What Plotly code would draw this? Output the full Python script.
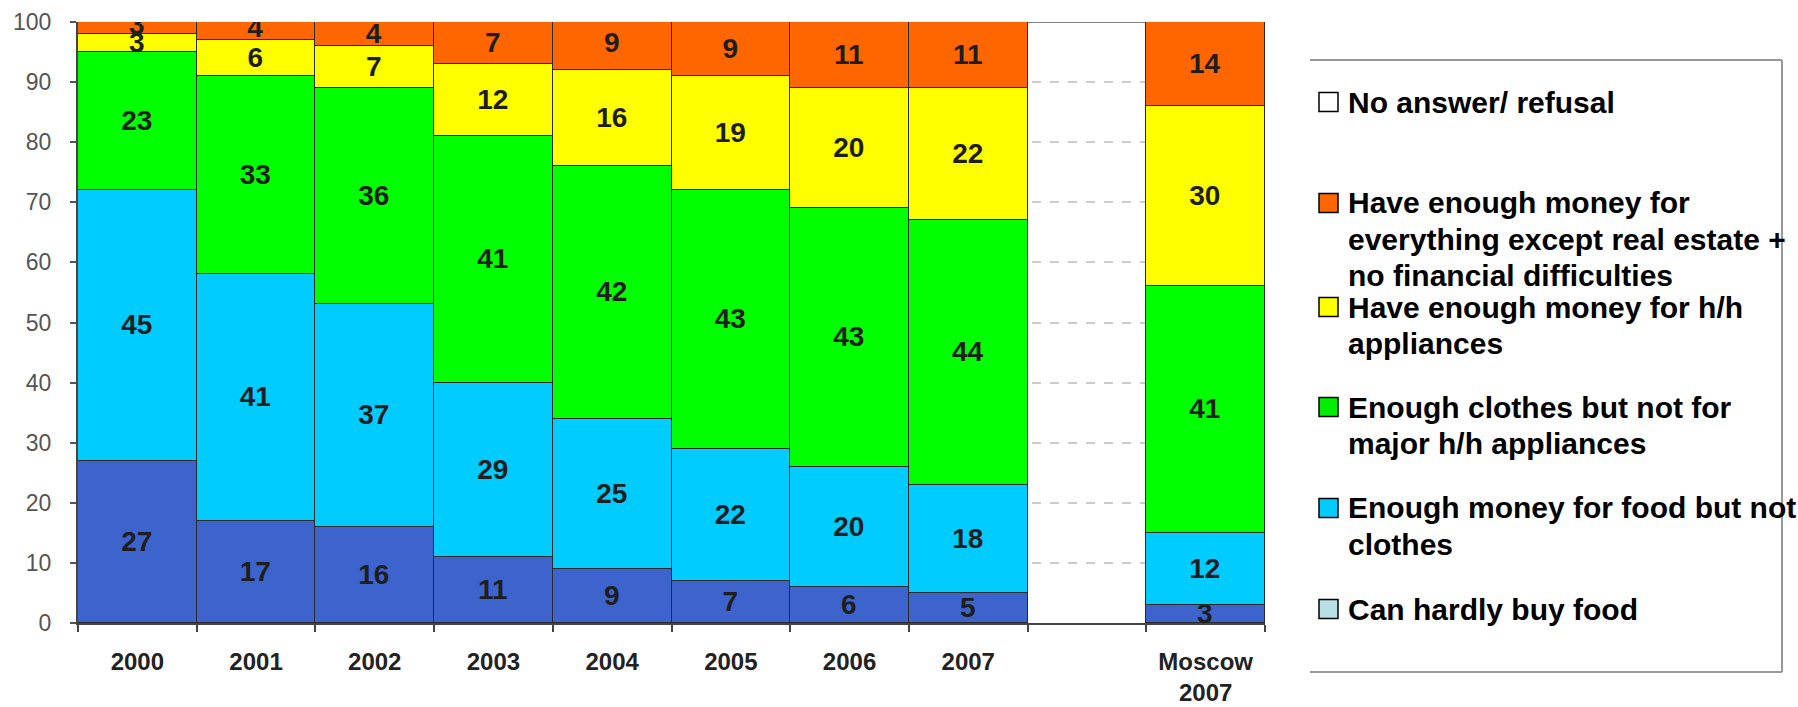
import plotly.graph_objects as go

# ---------------- data ----------------
categories = ["2000", "2001", "2002", "2003", "2004", "2005", "2006", "2007", " ", "Moscow<br>2007"]

can_hardly_buy_food = [27, 17, 16, 11, 9, 7, 6, 5, None, 3]
food_not_clothes    = [45, 41, 37, 29, 25, 22, 20, 18, None, 12]
clothes_not_appl    = [23, 33, 36, 41, 42, 43, 43, 44, None, 41]
hh_appliances       = [3, 6, 7, 12, 16, 19, 20, 22, None, 30]
everything_but_re   = [3, 4, 4, 7, 9, 9, 11, 11, None, 14]

series_values = [can_hardly_buy_food, food_not_clothes, clothes_not_appl, hh_appliances, everything_but_re]
series_colors = ["#3d64cc", "#00ccff", "#00ff00", "#ffff00", "#ff6600"]

legend_labels = [
    ["No answer/ refusal"],
    ["Have enough money for", "everything except real estate +", "no financial difficulties"],
    ["Have enough money for h/h", "appliances"],
    ["Enough clothes but not for", "major h/h appliances"],
    ["Enough money for food but not", "clothes"],
    ["Can hardly buy food"],
]
legend_colors = ["#ffffff", "#ff6600", "#ffff00", "#00ee00", "#00ccff", "#b8e0e4"]
legend_line_centers_px = [102, 203, 307, 407, 508, 609]

y_ticks = list(range(0, 101, 10))

# ---------------- layout geometry (pixels) ----------------
W, H = 1798, 707
PL, PR, PT, PB = 78, 1265, 22, 623
LINE_PITCH = 36


def px2paper_x(px):
    return (px - PL) / (PR - PL)


def px2paper_y(py):
    return (PB - py) / (PB - PT)


FONT = "Liberation Sans, Arial, sans-serif"

fig = go.Figure()
for vals, col in zip(series_values, series_colors):
    fig.add_trace(go.Bar(
        x=categories,
        y=vals,
        marker=dict(color=col, line=dict(color="#2a2a2a", width=1.5)),
        text=[("" if v is None else str(v)) for v in vals],
        textposition="inside",
        insidetextanchor="middle",
        textangle=0,
        textfont=dict(family=FONT, size=28, color="#1e1e1e", weight="bold"),
        showlegend=False,
        hoverinfo="skip",
    ))

shapes = []
# plot-area top border (visible only in the gap)
shapes.append(dict(type="line", xref="paper", yref="y", x0=0, x1=1, y0=100, y1=100,
                   line=dict(color="#808080", width=2), layer="below"))

# legend frame (top, right, bottom)
bx0, bx1, by0, by1 = 1310, 1782, 60, 672
for (xa, ya, xb, yb) in [(bx0, by0, bx1, by0), (bx1, by0, bx1, by1), (bx0, by1, bx1, by1)]:
    shapes.append(dict(type="line", xref="paper", yref="paper",
                       x0=px2paper_x(xa), y0=px2paper_y(ya), x1=px2paper_x(xb), y1=px2paper_y(yb),
                       line=dict(color="#999999", width=2)))

annotations = []
for lines, col, cy in zip(legend_labels, legend_colors, legend_line_centers_px):
    shapes.append(dict(type="rect", xref="paper", yref="paper",
                       x0=px2paper_x(1319), x1=px2paper_x(1338),
                       y0=px2paper_y(cy - 9.5), y1=px2paper_y(cy + 9.5),
                       fillcolor=col, line=dict(color="#000000", width=1.5)))
    for i, line in enumerate(lines):
        annotations.append(dict(xref="paper", yref="paper",
                                x=px2paper_x(1346), y=px2paper_y(cy + i * LINE_PITCH),
                                xanchor="left", yanchor="middle", align="left",
                                text=line, showarrow=False,
                                font=dict(family=FONT, size=30, color="#000000", weight="bold")))

fig.update_layout(
    barmode="stack",
    bargap=0,
    width=W, height=H,
    margin=dict(l=PL, r=W - PR, t=PT, b=H - PB, pad=0),
    paper_bgcolor="white",
    plot_bgcolor="white",
    shapes=shapes,
    annotations=annotations,
    uniformtext=dict(minsize=28, mode="show"),
    xaxis=dict(
        type="category",
        categoryorder="array",
        categoryarray=categories,
        tickson="boundaries",
        ticks="outside", ticklen=7, tickwidth=2, tickcolor="#444444",
        showline=True, linecolor="#444444", linewidth=2,
        showgrid=False,
        automargin=False,
        tickfont=dict(family=FONT, size=24, color="#222222", weight="bold"),
        ticklabelstandoff=16,
    ),
    yaxis=dict(
        range=[0, 100],
        tickvals=y_ticks,
        ticks="outside", ticklen=6, tickwidth=2, tickcolor="#555555",
        showline=True, linecolor="#444444", linewidth=2,
        showgrid=True, gridcolor="#cccccc", griddash="dash", gridwidth=1.5,
        zeroline=False,
        automargin=False,
        tickfont=dict(family=FONT, size=23, color="#555555"),
        ticklabelstandoff=14,
    ),
)

fig.write_html("out.html")
